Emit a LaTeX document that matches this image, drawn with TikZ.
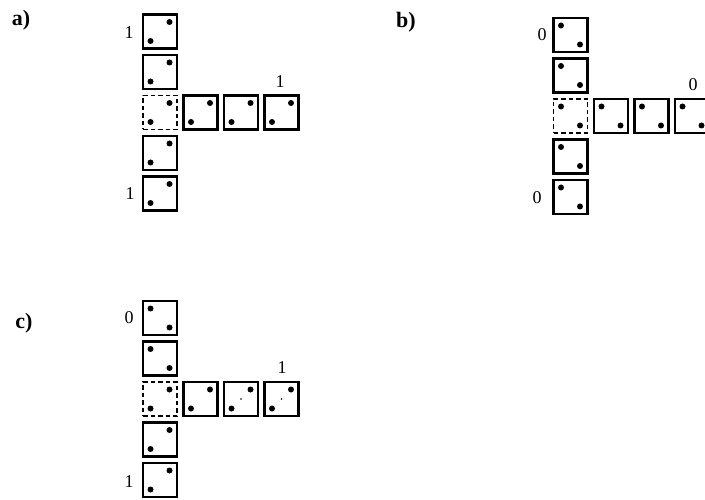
\documentclass[tikz,border=0pt]{standalone}
\usepackage{fontspec}
\setmainfont{Liberation Serif}
\usetikzlibrary{positioning}
\tikzset{
  cell/.style={
    draw=black, line width=2.2pt, minimum size=34pt,
    inner sep=0pt, outer sep=0pt
  },
  hole/.style={cell, line width=1.8pt, dash pattern=on 4.5pt off 3pt},
  pipsup/.style={path picture={
    \fill ([shift={(-7.5pt,-7.5pt)}]path picture bounding box.north east) circle[radius=3pt];
    \fill ([shift={(7.5pt,7.5pt)}]path picture bounding box.south west) circle[radius=3pt];
  }},
  pipsdown/.style={path picture={
    \fill ([shift={(7.5pt,-7.5pt)}]path picture bounding box.north west) circle[radius=3pt];
    \fill ([shift={(-7.5pt,7.5pt)}]path picture bounding box.south east) circle[radius=3pt];
  }},
  tag/.style={font=\fontsize{18}{20}\selectfont, inner sep=0pt},
  panel/.style={font=\fontsize{22}{24}\selectfont\bfseries, inner sep=0pt},
}

\begin{document}
\begin{tikzpicture}[x=1pt, y=-1pt, node distance=6.5pt]
  \useasboundingbox (0,0) rectangle (705,500);

  % a)
  \node[panel] (la) at (21,20) {a)};
  \node[hole, pipsup] (a-c) at (160,112.5) {};
  \node[cell, pipsup, above=of a-c]  (a-n1) {};
  \node[cell, pipsup, above=of a-n1] (a-n2) {};
  \node[cell, pipsup, below=of a-c]  (a-s1) {};
  \node[cell, pipsup, below=of a-s1] (a-s2) {};
  \node[cell, pipsup, right=of a-c]  (a-e1) {};
  \node[cell, pipsup, right=of a-e1] (a-e2) {};
  \node[cell, pipsup, right=of a-e2] (a-e3) {};
  \node[tag] at (129,33)  {1};
  \node[tag] at (130,194) {1};
  \node[tag] at (280,82)  {1};

  % b)
  \node[panel] (lb) at (406,22) {b)};
  \node[hole, pipsdown] (b-c) at (570.5,116) {};
  \node[cell, pipsdown, above=of b-c]  (b-n1) {};
  \node[cell, pipsdown, above=of b-n1] (b-n2) {};
  \node[cell, pipsdown, below=of b-c]  (b-s1) {};
  \node[cell, pipsdown, below=of b-s1] (b-s2) {};
  \node[cell, pipsdown, right=of b-c]  (b-e1) {};
  \node[cell, pipsdown, right=of b-e1] (b-e2) {};
  \node[cell, pipsdown, right=of b-e2] (b-e3) {};
  \node[tag] at (542,35)  {0};
  \node[tag] at (537,198) {0};
  \node[tag] at (693,85)  {0};

  % c)
  \node[panel] (lc) at (24,323) {c)};
  \node[hole, pipsup] (c-c) at (160,399) {};
  \node[cell, pipsdown, above=of c-c]  (c-n1) {};
  \node[cell, pipsdown, above=of c-n1] (c-n2) {};
  \node[cell, pipsup, below=of c-c]  (c-s1) {};
  \node[cell, pipsup, below=of c-s1] (c-s2) {};
  \node[cell, pipsup, right=of c-c]  (c-e1) {};
  \node[cell, pipsup, right=of c-e1] (c-e2) {};
  \node[cell, pipsup, right=of c-e2] (c-e3) {};
  \fill (c-e2.center) circle[radius=0.8pt];
  \fill (c-e3.center) circle[radius=0.8pt];
  \node[tag] at (129,318) {0};
  \node[tag] at (129,482) {1};
  \node[tag] at (282,368) {1};
\end{tikzpicture}
\end{document}
